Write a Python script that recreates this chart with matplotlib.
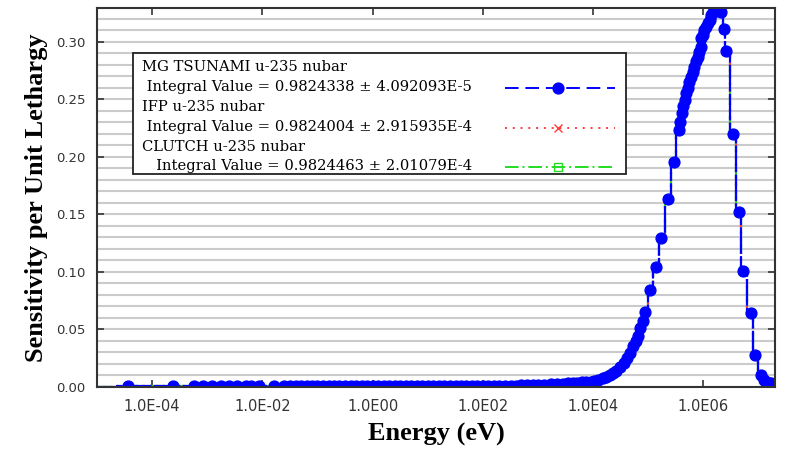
import numpy as np
import matplotlib
matplotlib.use("Agg")
import matplotlib.pyplot as plt
from matplotlib.patches import Rectangle
from matplotlib.lines import Line2D

# energy points (eV), first one is the lower boundary of the first group
energy = [1.0e-5, 3.6e-5, 2.4e-4, 5.7e-4, 8.5e-4, 1.23e-3, 1.75e-3, 2.5e-3, 3.5e-3,
          5.0e-3, 6.1e-3, 8.7e-3, 1.63e-2, 2.5e-2, 3.2e-2, 4.0e-2, 5.0e-2, 6.5e-2,
          8.0e-2, 0.1, 0.125, 0.16, 0.2, 0.25, 0.32, 0.4, 0.5, 0.63, 0.8, 1.0,
          1.25, 1.6, 2.0, 2.5, 3.2, 4.0, 5.0, 6.3, 8.0, 10, 12.5, 16, 20, 25, 32,
          40, 50, 63, 80, 100, 125, 160, 200, 250, 320, 400, 500, 630, 800, 1000,
          1300, 1700, 2200, 2800, 3500, 4300, 5200, 6300, 7500, 9000, 1.06e4,
          1.25e4, 1.5e4, 1.75e4, 2.0e4, 2.3e4, 2.6e4, 3.1e4, 3.6e4, 4.1e4, 4.6e4,
          5.3e4, 5.9e4, 6.5e4, 7.2e4, 8.0e4, 8.9e4, 1.09e5, 1.40e5, 1.68e5,
          2.28e5, 2.92e5, 3.55e5, 3.8e5, 4.1e5, 4.35e5, 4.6e5, 4.9e5, 5.2e5,
          5.6e5, 6.0e5, 6.4e5, 6.9e5, 7.4e5, 8.0e5, 8.5e5, 8.9e5, 9.2e5, 9.8e5,
          1.05e6, 1.12e6, 1.2e6, 1.3e6, 1.4e6, 1.5e6, 1.6e6, 1.72e6, 1.9e6,
          2.1e6, 2.38e6, 2.6e6, 3.5e6, 4.4e6, 5.25e6, 7.2e6, 8.8e6, 1.1e7,
          1.25e7, 1.4e7, 1.55e7, 1.7e7, 1.9e7]

tsunami = [0.0, 0.0002, 0.0002, 0.0002, 0.0002, 0.0002, 0.0002, 0.0002, 0.0002,
           0.0002, 0.0002, 0.0002, 0.0002, 0.0003, 0.0003, 0.0003, 0.0003, 0.0003,
           0.0003, 0.0003, 0.0003, 0.0003, 0.0003, 0.0003, 0.0003, 0.0003, 0.0003, 0.0003, 0.0003, 0.0003,
           0.0003, 0.0003, 0.0003, 0.0003, 0.0003, 0.0003, 0.0003, 0.0003, 0.0003, 0.0003, 0.0003, 0.0003, 0.0003, 0.0003, 0.0003,
           0.0004, 0.0004, 0.0004, 0.0004, 0.0005, 0.0006, 0.0006, 0.0007, 0.0008, 0.0009, 0.0010, 0.0011, 0.0012, 0.0014, 0.0015,
           0.0018, 0.0020, 0.0024, 0.0027, 0.0030, 0.0032, 0.0034, 0.0037, 0.0040, 0.0045, 0.0050,
           0.0060, 0.0074, 0.0087, 0.0100, 0.0120, 0.0140, 0.0170, 0.0205, 0.0250, 0.0290,
           0.0350, 0.0400, 0.0440, 0.0510, 0.0570, 0.0650, 0.0840, 0.1040, 0.1290,
           0.1630, 0.1950, 0.2230, 0.2300, 0.2380, 0.2440, 0.2490, 0.2550, 0.2600,
           0.2650, 0.2690, 0.2740, 0.2780, 0.2830, 0.2870, 0.2910, 0.2950, 0.3030, 0.3060,
           0.3100, 0.3130, 0.3160, 0.3190, 0.3230, 0.3260, 0.3290, 0.3280, 0.3270,
           0.3260, 0.3110, 0.2920, 0.2200, 0.1520, 0.1010, 0.0640, 0.0280, 0.0100,
           0.0060, 0.0040, 0.0030, 0.0030, 0.0020]
ifp = list(tsunami)
clutch = list(tsunami)

labels = ["MG TSUNAMI u-235 nubar", "IFP u-235 nubar", "CLUTCH u-235 nubar"]
integrals = [" Integral Value = 0.9824338 \u00b1 4.092093E-5",
             " Integral Value = 0.9824004 \u00b1 2.915935E-4",
             "   Integral Value = 0.9824463 \u00b1 2.01079E-4"]

xticks = [1e-4, 1e-2, 1e0, 1e2, 1e4, 1e6]
xticklabels = ["1.0E-04", "1.0E-02", "1.0E00", "1.0E02", "1.0E04", "1.0E06"]
yticks = [0.0, 0.05, 0.10, 0.15, 0.20, 0.25, 0.30]

blue = "#0000ff"
red = "#ff3b3b"
green = "#22dd22"

fig = plt.figure(figsize=(7.89, 4.54), dpi=100)
ax = fig.add_axes([0.1229, 0.1482, 0.8594, 0.8335])

styles = [
    (clutch, green, (0, (7, 2, 1, 2)), "s", dict(markerfacecolor="none", markersize=6)),
    (ifp, red, (0, (1, 2)), "x", dict(markersize=6)),
    (tsunami, blue, (0, (12, 1)), "o", dict(markersize=7.8)),
]
for vals, col, ls, mk, mkw in styles:
    ax.step(energy, vals, where="mid", color=col, linestyle=ls, linewidth=1.6)
    ax.plot(energy[1:], vals[1:], linestyle="none", marker=mk, color=col,
            markeredgecolor=col, **mkw)

ax.set_xscale("log")
ax.set_xlim(1e-5, 2e7)
ax.set_ylim(0, 0.329)

# horizontal grid every 0.01
ax.set_yticks(np.arange(0, 0.33, 0.01), minor=True)
ax.grid(True, which="minor", axis="y", color="#cbcbcb", linewidth=1.5)
ax.grid(True, which="major", axis="y", color="#cbcbcb", linewidth=1.5)
ax.set_axisbelow(True)
ax.tick_params(which="minor", length=0)

ax.set_xticks(xticks)
ax.set_xticklabels(xticklabels)
ax.xaxis.set_minor_locator(matplotlib.ticker.NullLocator())
ax.set_yticks(yticks)
ax.set_yticklabels(["%.2f" % t for t in yticks])
ax.tick_params(which="major", direction="in", length=5, width=1.2, color="#333333",
               top=True, right=True, labelcolor="#333333", pad=8)
ax.tick_params(axis="x", labelsize=10.5, pad=9)
ax.tick_params(axis="y", labelsize=9.5)
for lab in ax.get_xticklabels() + ax.get_yticklabels():
    lab.set_family("DejaVu Sans")

for sp in ax.spines.values():
    sp.set_color("#333333")
    sp.set_linewidth(1.5)

ax.set_xlabel("Energy (eV)", family="Liberation Serif", fontweight="bold",
              fontsize=19, labelpad=6)
ax.set_ylabel("Sensitivity per Unit Lethargy", family="Liberation Serif",
              fontweight="bold", fontsize=19, labelpad=6)

# legend box drawn by hand so the symbols sit on the second text line
ax.add_patch(Rectangle((0.0531, 0.562), 0.727, 0.320, transform=ax.transAxes,
                       facecolor="white", edgecolor="#222222", linewidth=1.3,
                       zorder=5))
text_y = [0.845, 0.792, 0.739, 0.686, 0.633, 0.583]
handle_y = [0.789, 0.684, 0.581]
for i in range(3):
    ax.text(0.0659, text_y[2 * i], labels[i], transform=ax.transAxes,
            family="DejaVu Serif", fontsize=10.6, va="center", zorder=6)
    ax.text(0.0659, text_y[2 * i + 1], integrals[i], transform=ax.transAxes,
            family="DejaVu Serif", fontsize=10.6, va="center", zorder=6)
legend_ls = [(0, (7, 3.5)), (0, (1, 3)), (0, (7, 2, 1, 2))]
for (vals, col, ls, mk, mkw), hy, lls in zip(styles[::-1], handle_y, legend_ls):
    ax.add_line(Line2D([0.602, 0.764], [hy, hy], transform=ax.transAxes,
                       color=col, linestyle=lls, linewidth=1.4, zorder=6))
    ax.add_line(Line2D([0.680], [hy], transform=ax.transAxes, marker=mk,
                       color=col, markeredgecolor=col, zorder=7, **mkw))

fig.savefig("out.png", dpi=100)
